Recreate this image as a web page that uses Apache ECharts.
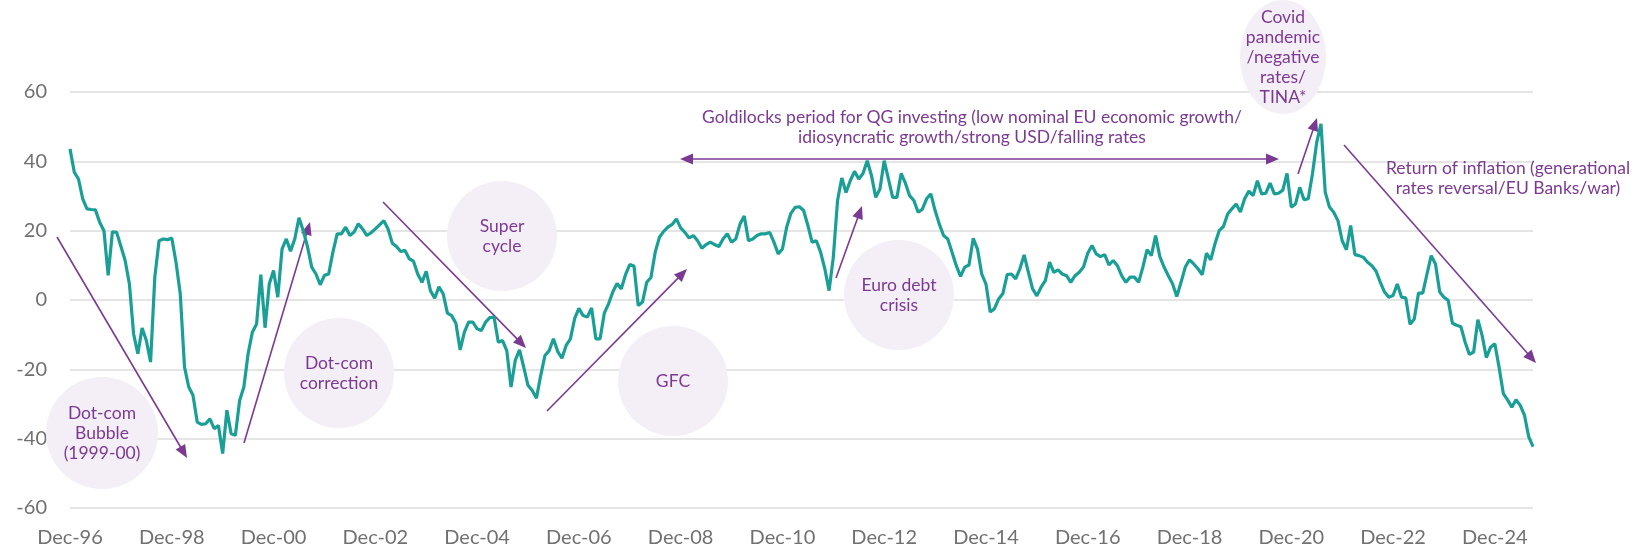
<!DOCTYPE html>
<html><head><meta charset="utf-8">
<script src="https://cdn.jsdelivr.net/npm/echarts@6/dist/echarts.min.js"></script>
<style>html,body{margin:0;padding:0;background:#fff}#c{width:1638px;height:550px}</style>
</head><body><div id="c"></div>
<script>
// ---- DATA ----
const startYear = 1996;          // first point: Dec-96
const startMonth = 11;           // 0 = Jan
const monthNames = ['Jan','Feb','Mar','Apr','May','Jun','Jul','Aug','Sep','Oct','Nov','Dec'];
const values = [
  43.6, 36.9, 34.9, 29.2, 26.3, 26.1, 26.0, 22.4, 20.0, 7.1, 19.7, 19.5,
  15.5, 11.4, 4.7, -9.8, -15.5, -8.1, -11.7, -17.9, 6.6, 17.1, 17.6, 17.4,
  17.9, 10.9, 1.8, -19.3, -25.1, -27.5, -35.2, -35.9, -35.7, -34.3, -37.1, -36.2,
  -44.3, -31.8, -38.6, -39.0, -29.0, -25.1, -15.5, -9.3, -6.9, 7.3, -8.0, 4.7,
  8.5, 0.8, 14.7, 17.6, 14.1, 17.6, 23.7, 20.0, 15.4, 9.5, 7.5, 4.4,
  7.1, 7.5, 13.8, 19.1, 19.1, 21.0, 18.6, 19.6, 22.0, 20.5, 18.6, 19.4,
  20.5, 21.7, 22.9, 20.5, 16.4, 15.4, 14.0, 14.3, 11.9, 11.2, 7.5, 5.1,
  8.3, 2.7, 0.5, 3.8, 1.8, -3.8, -4.5, -6.7, -14.4, -9.3, -6.4, -6.4,
  -8.3, -8.8, -6.4, -5.1, -4.9, -12.2, -11.7, -14.6, -25.1, -17.4, -14.4, -19.4,
  -24.6, -26.1, -28.3, -21.8, -16.0, -14.6, -11.2, -14.8, -16.8, -13.1, -11.2, -5.4,
  -2.4, -4.5, -4.9, -2.3, -11.2, -11.2, -3.8, -1.1, 2.3, 4.8, 3.2, 7.3,
  10.2, 9.8, -1.6, -0.6, 5.1, 6.5, 13.8, 18.1, 19.8, 21.0, 21.8, 23.4,
  20.8, 19.5, 17.9, 18.6, 17.1, 14.9, 16.0, 16.7, 16.0, 15.4, 17.6, 19.1,
  16.7, 17.6, 21.9, 24.2, 17.1, 17.6, 18.6, 19.1, 19.1, 19.5, 16.7, 13.3,
  14.7, 21.0, 25.0, 26.7, 26.9, 25.8, 21.5, 16.7, 17.1, 13.8, 9.0, 2.7,
  12.3, 28.7, 35.2, 31.0, 34.4, 37.1, 34.9, 36.5, 40.2, 35.9, 29.6, 32.0,
  40.2, 34.9, 29.6, 29.6, 36.5, 33.7, 30.1, 28.7, 25.3, 26.2, 29.2, 30.6,
  25.8, 21.9, 18.6, 17.6, 13.8, 9.9, 6.8, 9.5, 10.1, 17.8, 14.7, 7.5,
  4.6, -3.5, -2.5, 0.3, 1.9, 7.3, 7.5, 6.1, 9.0, 13.0, 8.0, 3.2,
  1.2, 3.7, 5.6, 10.9, 8.0, 8.7, 7.5, 7.0, 5.1, 7.0, 8.0, 9.5,
  13.5, 15.7, 13.3, 12.5, 13.1, 10.1, 11.4, 9.9, 7.0, 5.1, 6.6, 6.6,
  5.1, 9.5, 14.5, 12.8, 18.6, 12.5, 9.5, 7.0, 4.7, 1.0, 5.1, 9.5,
  11.6, 10.4, 9.0, 7.3, 13.5, 11.6, 16.2, 20.0, 21.2, 24.8, 26.3, 27.7,
  25.4, 29.2, 31.4, 30.1, 34.4, 30.6, 30.8, 33.7, 30.6, 30.8, 31.7, 36.5,
  26.8, 27.7, 32.5, 28.9, 29.2, 36.4, 45.5, 50.8, 31.1, 26.8, 25.3, 22.9,
  17.1, 14.5, 21.5, 13.1, 12.8, 12.3, 10.9, 9.9, 8.3, 5.1, 2.3, 0.8,
  1.3, 4.6, 0.8, 0.6, -7.0, -5.5, 2.0, 2.0, 7.5, 12.8, 10.4, 2.3,
  0.8, -0.1, -6.7, -7.3, -7.7, -12.2, -15.7, -15.0, -5.7, -10.2, -16.6, -13.6,
  -12.6, -19.4, -27.0, -28.8, -30.9, -28.8, -30.4, -33.3, -39.5, -42.3
];
const categories = values.map((_, i) => {
  const k = startMonth + i;
  const y = (startYear + Math.floor(k / 12)) % 100;
  return monthNames[k % 12] + '-' + String(y).padStart(2, '0');
});
const tickLabels = ['Dec-96','Dec-98','Dec-00','Dec-02','Dec-04','Dec-06','Dec-08','Dec-10',
                    'Dec-12','Dec-14','Dec-16','Dec-18','Dec-20','Dec-22','Dec-24'];
const yMin = -60, yMax = 60, yStep = 20;

// ---- ANNOTATIONS ----
const PURPLE = '#7b3a92';
const CIRCLE_FILL = '#f4eff6';
const FONT = '17.5px Lato, "Noto Sans", sans-serif';
const bubbles = [
  { cx: 102, cy: 433, rx: 56, ry: 56, text: 'Dot-com\nBubble\n(1999-00)' },
  { cx: 339, cy: 373, rx: 55, ry: 55, text: 'Dot-com\ncorrection' },
  { cx: 502, cy: 236, rx: 55, ry: 55, text: 'Super\ncycle' },
  { cx: 673, cy: 381, rx: 55, ry: 55, text: 'GFC' },
  { cx: 899, cy: 295, rx: 55, ry: 55, text: 'Euro debt\ncrisis' },
  { cx: 1283, cy: 57, rx: 43, ry: 57, text: 'Covid\npandemic\n/negative\nrates/\nTINA*' }
];
const arrows = [
  { x1: 57, y1: 237, x2: 187, y2: 458 },
  { x1: 244, y1: 443, x2: 310, y2: 222 },
  { x1: 383, y1: 202, x2: 526, y2: 348 },
  { x1: 547, y1: 411, x2: 687, y2: 269 },
  { x1: 836, y1: 278, x2: 862, y2: 206 },
  { x1: 1298, y1: 174, x2: 1317, y2: 118 },
  { x1: 1344, y1: 145, x2: 1536, y2: 363 },
  { x1: 680, y1: 159, x2: 1279, y2: 159, both: true }
];
const notes = [
  { x: 972, y: 127, text: 'Goldilocks period for QG investing (low nominal EU economic growth/\nidiosyncratic growth/strong USD/falling rates' },
  { x: 1508, y: 178, text: 'Return of inflation (generational\nrates reversal/EU Banks/war)' }
];

const HL = 13, HW = 5.5;
function head(x, y, a) {
  const bx = x - HL * Math.cos(a), by = y - HL * Math.sin(a);
  return { type: 'polygon', z: 1, shape: { points: [[x, y], [bx + HW * Math.sin(a), by - HW * Math.cos(a)], [bx - HW * Math.sin(a), by + HW * Math.cos(a)]] },
           style: { fill: PURPLE } };
}
const gfx = [];
bubbles.forEach(b => {
  gfx.push({ type: 'ellipse', z: 1, shape: { cx: b.cx, cy: b.cy, rx: b.rx, ry: b.ry }, style: { fill: CIRCLE_FILL } });
  gfx.push({ type: 'text', z: 1, x: b.cx, y: b.cy, style: { text: b.text, font: FONT, fill: PURPLE, align: 'center', verticalAlign: 'middle', lineHeight: 20 } });
});
arrows.forEach(r => {
  const a = Math.atan2(r.y2 - r.y1, r.x2 - r.x1);
  let sx = r.x1, sy = r.y1;
  if (r.both) { sx = r.x1 + (HL - 2) * Math.cos(a); sy = r.y1 + (HL - 2) * Math.sin(a); gfx.push(head(r.x1, r.y1, a + Math.PI)); }
  gfx.push({ type: 'line', z: 1, shape: { x1: sx, y1: sy, x2: r.x2 - (HL - 2) * Math.cos(a), y2: r.y2 - (HL - 2) * Math.sin(a) },
             style: { stroke: PURPLE, lineWidth: 1.6 } });
  gfx.push(head(r.x2, r.y2, a));
});
notes.forEach(n => {
  gfx.push({ type: 'text', z: 1, x: n.x, y: n.y, style: { text: n.text, font: FONT, fill: PURPLE, align: 'center', verticalAlign: 'middle', lineHeight: 20 } });
});

const chart = echarts.init(document.getElementById('c'), null, { renderer: 'canvas' });
chart.setOption({
  animation: false,
  backgroundColor: '#ffffff',
  grid: { left: 70, right: 105, top: 92, bottom: 42, containLabel: false },
  xAxis: {
    type: 'category', data: categories, boundaryGap: false,
    axisLine: { show: false }, axisTick: { show: false }, splitLine: { show: false },
    axisLabel: {
      interval: (idx, val) => tickLabels.indexOf(val) >= 0,
      color: '#707070', fontFamily: 'Lato', fontSize: 20, margin: 20
    }
  },
  yAxis: {
    type: 'value', min: yMin, max: yMax, interval: yStep,
    axisLine: { show: false }, axisTick: { show: false },
    splitLine: { lineStyle: { color: '#dcdcdc', width: 1.5 } },
    axisLabel: { color: '#707070', fontFamily: 'Lato', fontSize: 20, margin: 23 }
  },
  series: [{
    type: 'line', data: values, z: 5, showSymbol: false, smooth: false,
    lineStyle: { color: '#1a9f96', width: 3.2 }
  }],
  graphic: gfx
});
</script></body></html>
